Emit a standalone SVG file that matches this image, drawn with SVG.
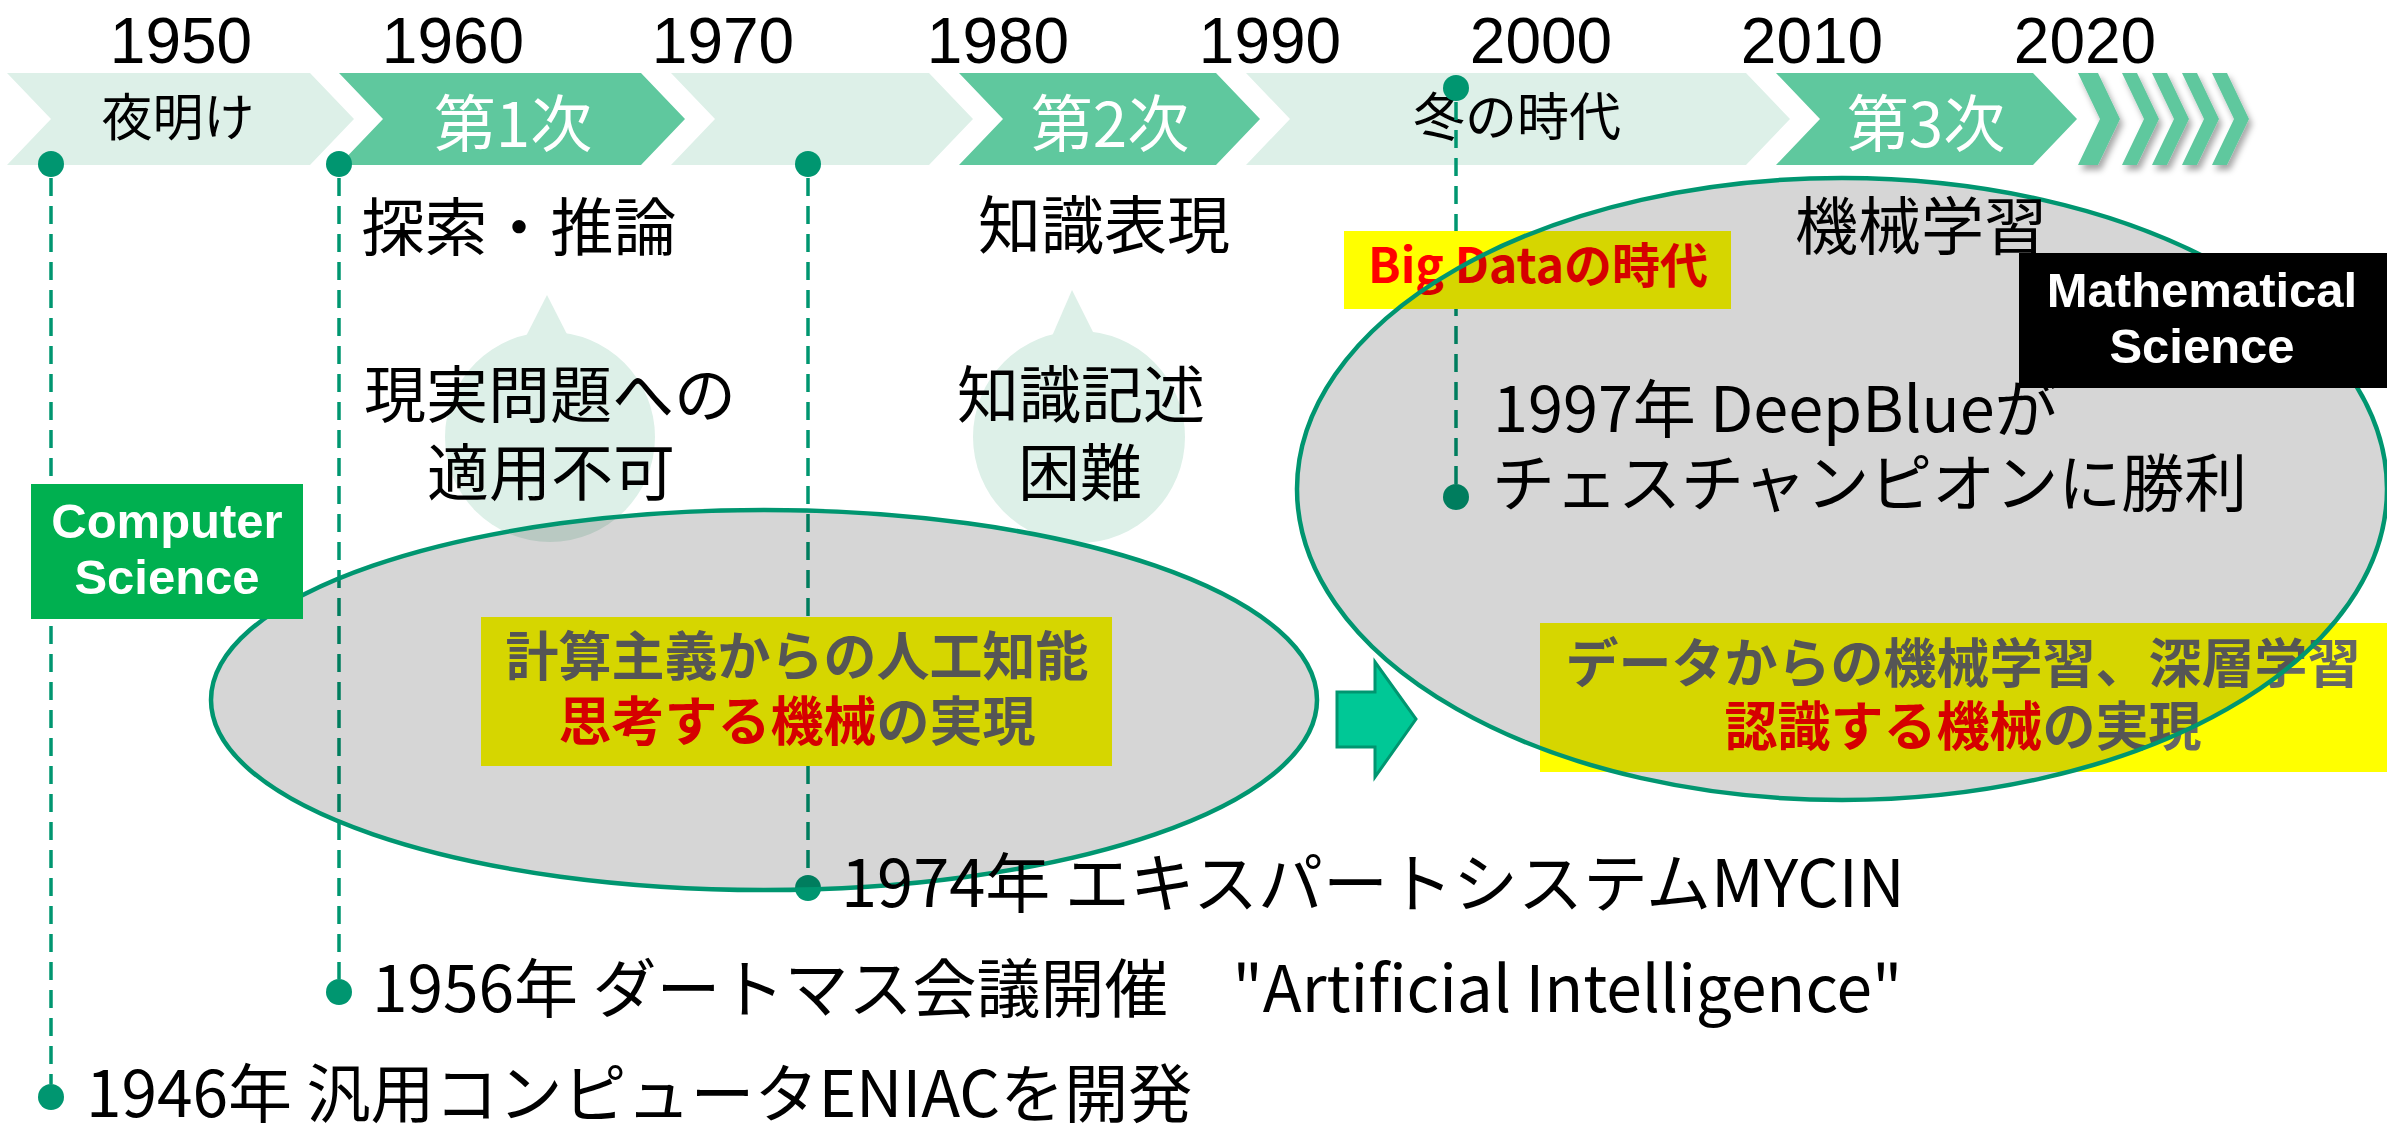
<svg xmlns="http://www.w3.org/2000/svg" width="2387" height="1128" viewBox="0 0 2387 1128">
  <defs>
    <style>
      .jp { font-family: 'Noto Sans CJK JP', 'Noto Sans', sans-serif; }
      .lat { font-family: 'Liberation Sans', Arial, sans-serif; font-weight: bold; }
      .yr { font-family: 'Liberation Sans', Arial, sans-serif; font-size: 64px; fill: #000; text-anchor: middle; }
      .chevL { fill: #DDF0E8; }
      .chevD { fill: #5FC89E; }
      .lblK { font-size: 51px; fill: #000; text-anchor: middle; }
      .lblW { font-size: 62px; fill: #fff; text-anchor: middle; }
      .dash { stroke: #009670; stroke-width: 3.5; stroke-dasharray: 18 10; fill: none; }
      .dot { fill: #009670; }
      .bubble { fill: #DDF0E8; }
      .era { fill: #000; fill-opacity: 0.16; stroke: #009670; stroke-width: 4.5; }
      .hl { fill: #FFFF00; }
      .hlText { font-size: 53px; font-weight: bold; fill: #666; text-anchor: middle; }
      .red { fill: #FF0000; }
      .topic { font-size: 63px; fill: #000; text-anchor: middle; }
      .note { font-size: 62px; fill: #000; text-anchor: middle; }
      .event { font-size: 64px; fill: #000; }
      .tag { font-size: 49px; fill: #fff; text-anchor: middle; }
    </style>
    <filter id="chevShadow" x="-20%" y="-20%" width="150%" height="150%">
      <feDropShadow dx="3" dy="5" stdDeviation="3" flood-color="#000" flood-opacity="0.35"/>
    </filter>
  </defs>

  <rect width="2387" height="1128" fill="#fff"/>

  <!-- decade labels -->
  <g id="years" class="yr">
    <text x="181" y="63">1950</text>
    <text x="453" y="63">1960</text>
    <text x="723" y="63">1970</text>
    <text x="998" y="63">1980</text>
    <text x="1270" y="63">1990</text>
    <text x="1541" y="63">2000</text>
    <text x="1812" y="63">2010</text>
    <text x="2085" y="63">2020</text>
  </g>

  <!-- era chevrons -->
  <g id="era-dawn">
    <polygon class="chevL" points="7,73 310,73 354,119 310,165 7,165 51,119"/>
    <text class="jp lblK" x="178" y="136">夜明け</text>
  </g>
  <g id="era-first">
    <polygon class="chevD" points="339,73 641,73 685,119 641,165 339,165 383,119"/>
    <text class="jp lblW" x="513" y="147">第1次</text>
  </g>
  <g id="era-gap">
    <polygon class="chevL" points="671,73 929,73 973,119 929,165 671,165 715,119"/>
  </g>
  <g id="era-second">
    <polygon class="chevD" points="959,73 1216,73 1260,119 1216,165 959,165 1003,119"/>
    <text class="jp lblW" x="1110" y="147">第2次</text>
  </g>
  <g id="era-winter">
    <polygon class="chevL" points="1246,73 1746,73 1790,119 1746,165 1246,165 1290,119"/>
    <text class="jp lblK" x="1517" y="136" style="font-size:52px">冬の時代</text>
  </g>
  <g id="era-third">
    <polygon class="chevD" points="1776,73 2033,73 2077,119 2033,165 1776,165 1820,119"/>
    <text class="jp lblW" x="1926" y="147">第3次</text>
  </g>
  <g id="era-future" class="chevD" filter="url(#chevShadow)">
    <polygon points="2078,73 2098,73 2120,119 2098,165 2078,165 2100,119"/>
    <polygon points="2122,73 2137,73 2159,119 2137,165 2122,165 2144,119"/>
    <polygon points="2152,73 2167,73 2189,119 2167,165 2152,165 2174,119"/>
    <polygon points="2182,73 2197,73 2219,119 2197,165 2182,165 2204,119"/>
    <polygon points="2212,73 2227,73 2249,119 2227,165 2212,165 2234,119"/>
  </g>

  <!-- callout bubbles -->
  <g id="bubble-real">
    <circle class="bubble" cx="550" cy="437" r="105"/>
    <polygon class="bubble" points="519,350 547,295 575,350"/>
  </g>
  <g id="bubble-knowledge">
    <circle class="bubble" cx="1079" cy="437" r="106"/>
    <polygon class="bubble" points="1046,350 1072,290 1102,350"/>
  </g>

  <!-- event leader lines -->
  <g id="connectors">
    <line class="dash" x1="51" y1="178" x2="51" y2="1084"/>
    <line class="dash" x1="339" y1="178" x2="339" y2="979"/>
    <line class="dash" x1="808" y1="178" x2="808" y2="875"/>
    <line class="dash" x1="1456" y1="102" x2="1456" y2="484"/>
    <circle class="dot" cx="51" cy="164" r="13"/>
    <circle class="dot" cx="51" cy="1097" r="13"/>
    <circle class="dot" cx="339" cy="164" r="13"/>
    <circle class="dot" cx="339" cy="992" r="13"/>
    <circle class="dot" cx="808" cy="164" r="13"/>
    <circle class="dot" cx="808" cy="888" r="13"/>
    <circle class="dot" cx="1456" cy="88" r="13"/>
    <circle class="dot" cx="1456" cy="497" r="13"/>
  </g>

  <!-- highlighted summaries -->
  <g id="summary-symbolic">
    <rect class="hl" x="481" y="617" width="631" height="149"/>
    <text class="jp hlText" x="797" y="676">計算主義からの人工知能</text>
    <text class="jp hlText" x="797" y="741"><tspan class="red">思考する機械</tspan>の実現</text>
  </g>
  <g id="summary-data">
    <rect class="hl" x="1540" y="623" width="847" height="149"/>
    <text class="jp hlText" x="1963" y="683">データからの機械学習、深層学習</text>
    <text class="jp hlText" x="1963" y="746"><tspan class="red">認識する機械</tspan>の実現</text>
  </g>
  <g id="bigdata">
    <rect class="hl" x="1344" y="231" width="387" height="78"/>
    <text class="jp red" x="1538" y="283" text-anchor="middle" style="font-size:48px;font-weight:bold">Big Dataの時代</text>
  </g>

  <!-- paradigm ellipses -->
  <g id="paradigm-symbolic">
    <ellipse class="era" cx="764" cy="700" rx="553" ry="190"/>
  </g>
  <g id="paradigm-data">
    <ellipse class="era" cx="1842" cy="489" rx="545" ry="311"/>
  </g>

  <!-- transition arrow -->
  <g id="shift-arrow">
    <polygon points="1337,692 1375,692 1375,662 1416,719 1375,777 1375,747 1337,747" fill="#00C896" stroke="#009670" stroke-width="3"/>
  </g>

  <!-- topics per boom -->
  <g id="topics" class="jp topic">
    <text x="519" y="250">探索・推論</text>
    <text x="1104" y="248">知識表現</text>
    <text x="1921" y="249">機械学習</text>
  </g>
  <g id="notes" class="jp note">
    <text x="550" y="418">現実問題への</text>
    <text x="551" y="496">適用不可</text>
    <text x="1081" y="418">知識記述</text>
    <text x="1080" y="496">困難</text>
  </g>

  <!-- milestones -->
  <g id="event-1946"><text class="jp event" x="86" y="1117">1946年 汎用コンピュータENIACを開発</text></g>
  <g id="event-1956"><text class="jp event" x="372" y="1012">1956年 ダートマス会議開催　&quot;Artificial Intelligence&quot;</text></g>
  <g id="event-1974"><text class="jp event" x="841" y="907" style="font-size:65px">1974年 エキスパートシステムMYCIN</text></g>
  <g id="event-1997">
    <text class="jp event" x="1493" y="432" style="font-size:63px">1997年 DeepBlueが</text>
    <text class="jp event" x="1492" y="506" style="font-size:63px">チェスチャンピオンに勝利</text>
  </g>

  <!-- field tags -->
  <g id="tag-cs">
    <rect x="31" y="484" width="272" height="135" fill="#00B050"/>
    <text class="lat tag" x="167" y="538">Computer</text>
    <text class="lat tag" x="167" y="594">Science</text>
  </g>
  <g id="tag-math">
    <rect x="2019" y="253" width="368" height="135" fill="#000"/>
    <text class="lat tag" x="2202" y="307">Mathematical</text>
    <text class="lat tag" x="2202" y="363">Science</text>
  </g>
</svg>
